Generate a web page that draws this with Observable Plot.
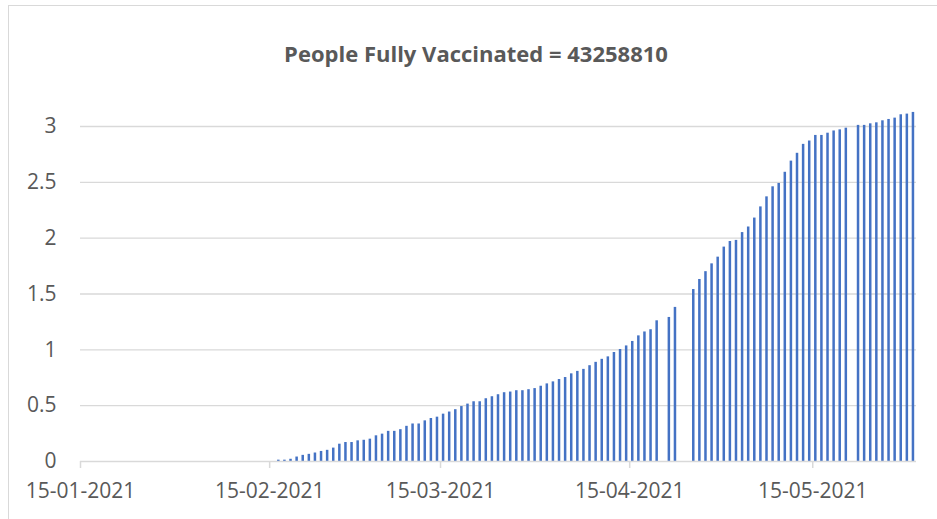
<!DOCTYPE html>
<html>
<head>
<meta charset="utf-8">
<script src="https://cdn.jsdelivr.net/npm/d3@7"></script>
<script src="https://cdn.jsdelivr.net/npm/@observablehq/plot@0.6"></script>
<style>
  html, body { margin: 0; padding: 0; background: #ffffff; }
  #wrap { position: relative; width: 937px; height: 519px; overflow: hidden; background: #fff; }
  #frame { position: absolute; left: 8px; top: 5px; width: 960px; height: 560px;
           border-left: 1.5px solid #d9d9d9; border-top: 1.5px solid #d9d9d9; box-sizing: border-box; }
  #title { position: absolute; left: 8px; width: 936px; top: 42px; text-align: center;
           font-family: "Open Sans", sans-serif; font-weight: 700; font-size: 22px; line-height: 22px;
           color: #595959; white-space: nowrap; }
  #chart { position: absolute; left: 0; top: 100px; }
</style>
</head>
<body>
<div id="wrap">
  <div id="frame"></div>
  <div id="title">People Fully Vaccinated = 43258810</div>
  <div id="chart"></div>
</div>
<script>
// ---- data ----
const dates = [
  "2021-02-16","2021-02-17","2021-02-18","2021-02-19","2021-02-20","2021-02-21","2021-02-22","2021-02-23",
  "2021-02-24","2021-02-25","2021-02-26","2021-02-27","2021-02-28",
  "2021-03-01","2021-03-02","2021-03-03","2021-03-04","2021-03-05","2021-03-06","2021-03-07","2021-03-08",
  "2021-03-09","2021-03-10","2021-03-11","2021-03-12","2021-03-13","2021-03-14","2021-03-15","2021-03-16",
  "2021-03-17","2021-03-18","2021-03-19","2021-03-20","2021-03-21","2021-03-22","2021-03-23","2021-03-24",
  "2021-03-25","2021-03-26","2021-03-27","2021-03-28","2021-03-29","2021-03-30","2021-03-31",
  "2021-04-01","2021-04-02","2021-04-03","2021-04-04","2021-04-05","2021-04-06","2021-04-07","2021-04-08",
  "2021-04-09","2021-04-10","2021-04-11","2021-04-12","2021-04-13","2021-04-14","2021-04-15","2021-04-16",
  "2021-04-17","2021-04-18","2021-04-19","2021-04-21","2021-04-22",
  "2021-04-25","2021-04-26","2021-04-27","2021-04-28","2021-04-29","2021-04-30",
  "2021-05-01","2021-05-02","2021-05-03","2021-05-04","2021-05-05","2021-05-06","2021-05-07","2021-05-08",
  "2021-05-09","2021-05-10","2021-05-11","2021-05-12","2021-05-13","2021-05-14","2021-05-15","2021-05-16",
  "2021-05-17","2021-05-18","2021-05-19","2021-05-20","2021-05-22","2021-05-23","2021-05-24","2021-05-25",
  "2021-05-26","2021-05-27","2021-05-28","2021-05-29","2021-05-30","2021-05-31"
];
const values = [
  0.012,0.012,0.02,0.04,0.055,0.064,0.076,0.09,
  0.10,0.12,0.155,0.17,0.17,
  0.185,0.19,0.20,0.23,0.245,0.27,0.27,0.285,
  0.315,0.336,0.336,0.364,0.385,0.397,0.424,0.443,
  0.464,0.492,0.514,0.535,0.535,0.562,0.58,0.598,
  0.616,0.622,0.634,0.634,0.643,0.653,0.674,
  0.695,0.713,0.734,0.752,0.785,0.807,0.825,0.858,
  0.888,0.915,0.937,0.976,1.003,1.035,1.075,1.125,
  1.16,1.18,1.26,1.29,1.38,
  1.54,1.63,1.70,1.77,1.83,1.92,
  1.97,1.98,2.05,2.10,2.18,2.28,2.37,2.46,
  2.49,2.59,2.69,2.76,2.84,2.87,2.92,2.92,
  2.94,2.96,2.97,2.985,3.01,3.01,3.024,3.033,
  3.051,3.063,3.075,3.105,3.111,3.126
];
const xDomain = ["2021-01-15", "2021-06-01"];
const xTicks = ["2021-01-15","2021-02-15","2021-03-15","2021-04-15","2021-05-15"];
const yTicks = [0, 0.5, 1, 1.5, 2, 2.5, 3];

// ---- build table ----
const table = dates.map((d, i) => {
  const start = new Date(d + "T00:00:00Z");
  return {start, end: d3.utcDay.offset(start, 1), value: values[i]};
});
const fmt = d3.utcFormat("%d-%m-%Y");

const chart = Plot.plot({
  width: 937,
  height: 419,
  marginLeft: 80,
  marginRight: 21,
  marginTop: 26,
  marginBottom: 58,
  style: {fontFamily: "'Open Sans', sans-serif", background: "transparent", overflow: "visible"},
  x: {type: "utc", domain: xDomain.map(d => new Date(d + "T00:00:00Z"))},
  y: {domain: [0, 3]},
  marks: [
    Plot.gridY(yTicks.filter(d => d > 0), {stroke: "#d9d9d9", strokeOpacity: 1, strokeWidth: 1.4}),
    Plot.rectY(table, {x1: "start", x2: "end", y: "value", fill: "#4472C4", insetLeft: 1.8, insetRight: 1.8}),
    Plot.ruleY([0], {stroke: "#d9d9d9", strokeWidth: 1.5}),
    Plot.axisX(xTicks.map(d => new Date(d + "T00:00:00Z")), {
      tickFormat: fmt, tickSize: 7, tickPadding: 15, stroke: "#d9d9d9", strokeWidth: 1.5,
      fill: "#595959", fontSize: 21, label: null
    }),
    Plot.axisY(yTicks, {
      tickFormat: d => `${d}`, tickSize: 0, tickPadding: 24, fill: "#595959", fontSize: 21, label: null
    })
  ]
});
document.getElementById("chart").appendChild(chart);
</script>
</body>
</html>
